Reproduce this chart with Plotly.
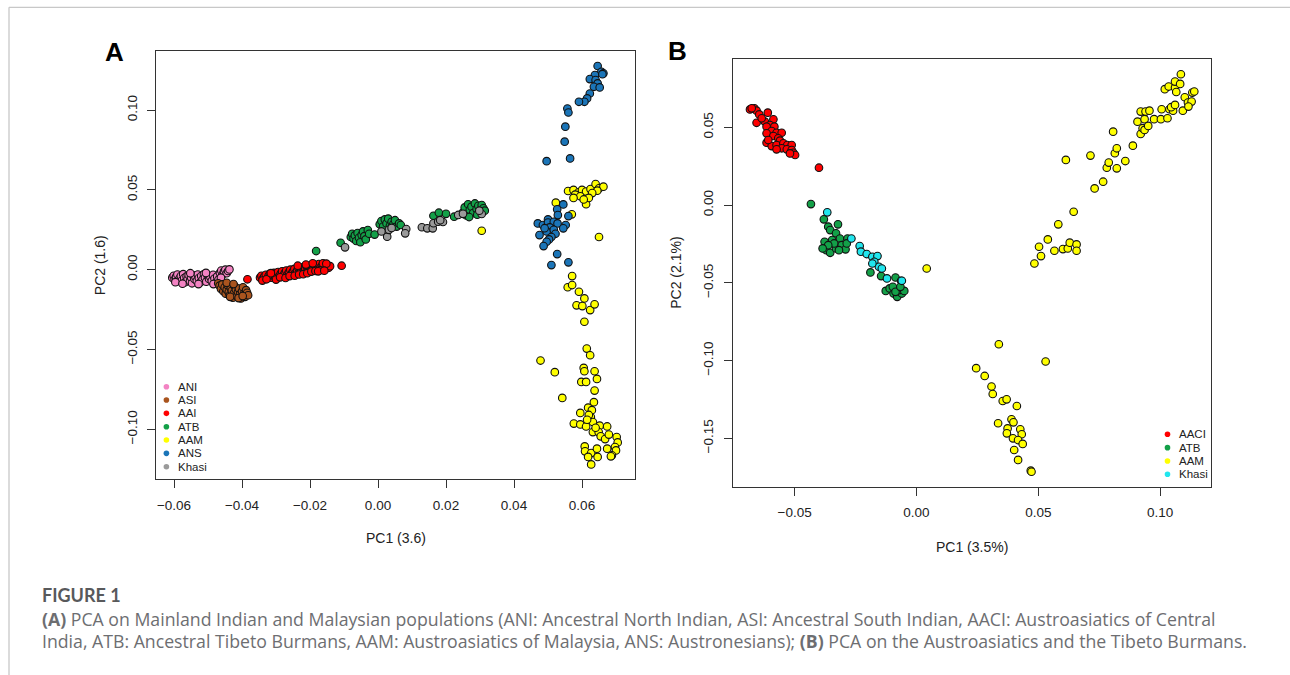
import plotly.graph_objects as go

# ---------------- DATA: panel A ----------------
ANI_x = [-0.0605,-0.0601,-0.0598,-0.0594,-0.0590,-0.0588,-0.0584,-0.0580,-0.0577,-0.0573,-0.0570,-0.0567,-0.0563,-0.0560,-0.0557,-0.0553,-0.0550,-0.0547,-0.0543,-0.0540,-0.0537,-0.0533,-0.0530,-0.0527,-0.0523,-0.0520,-0.0516,-0.0512,-0.0509,-0.0505,-0.0501,-0.0497,-0.0493,-0.0489,-0.0485,-0.0481,-0.0477,-0.0473,-0.0469,-0.0465,-0.0461,-0.0457,-0.0453,-0.0449,-0.0445,-0.0441,-0.0437,-0.0596,-0.0575,-0.0552,-0.0528,-0.0506,-0.0484,-0.0462]
ANI_y = [-0.0050,-0.0038,-0.0062,-0.0045,-0.0030,-0.0070,-0.0055,-0.0040,-0.0068,-0.0028,-0.0052,-0.0078,-0.0042,-0.0060,-0.0033,-0.0072,-0.0048,-0.0085,-0.0035,-0.0058,-0.0044,-0.0070,-0.0030,-0.0052,-0.0080,-0.0040,-0.0062,-0.0028,-0.0050,-0.0075,-0.0038,-0.0058,-0.0046,-0.0070,-0.0032,-0.0055,-0.0080,-0.0042,-0.0062,-0.0020,-0.0005,-0.0030,-0.0012,0.0000,-0.0022,-0.0008,0.0002,-0.0078,-0.0088,-0.0022,-0.0090,-0.0020,-0.0090,-0.0050]

ASI_x = [-0.0470,-0.0466,-0.0462,-0.0458,-0.0455,-0.0451,-0.0448,-0.0445,-0.0442,-0.0439,-0.0436,-0.0433,-0.0430,-0.0427,-0.0424,-0.0421,-0.0418,-0.0415,-0.0412,-0.0409,-0.0406,-0.0403,-0.0400,-0.0397,-0.0394,-0.0391,-0.0388,-0.0385,-0.0382,-0.0445,-0.0425,-0.0410,-0.0435,-0.0398]
ASI_y = [-0.0085,-0.0100,-0.0120,-0.0092,-0.0135,-0.0110,-0.0150,-0.0125,-0.0098,-0.0140,-0.0160,-0.0115,-0.0132,-0.0175,-0.0148,-0.0105,-0.0125,-0.0165,-0.0140,-0.0118,-0.0155,-0.0180,-0.0135,-0.0110,-0.0150,-0.0170,-0.0128,-0.0145,-0.0160,-0.0082,-0.0090,-0.0178,-0.0170,-0.0165]

AAI_x = [-0.0384,-0.0347,-0.0343,-0.0339,-0.0335,-0.0330,-0.0326,-0.0322,-0.0318,-0.0314,-0.0310,-0.0306,-0.0302,-0.0298,-0.0294,-0.0290,-0.0286,-0.0282,-0.0278,-0.0274,-0.0270,-0.0266,-0.0262,-0.0258,-0.0254,-0.0250,-0.0246,-0.0242,-0.0238,-0.0234,-0.0230,-0.0226,-0.0222,-0.0218,-0.0214,-0.0210,-0.0206,-0.0202,-0.0198,-0.0194,-0.0190,-0.0186,-0.0182,-0.0178,-0.0174,-0.0170,-0.0165,-0.0160,-0.0155,-0.0150,-0.0145,-0.0141,-0.0107,
         -0.0340,-0.0328,-0.0315,-0.0300,-0.0288,-0.0272,-0.0260,-0.0245,-0.0232,-0.0220,-0.0208,-0.0196,-0.0184,-0.0172,-0.0162,-0.0152,-0.0236,-0.0212,-0.0192,-0.0176,-0.0158]
AAI_y = [-0.0060,-0.0050,-0.0038,-0.0058,-0.0045,-0.0032,-0.0055,-0.0040,-0.0025,-0.0050,-0.0035,-0.0020,-0.0045,-0.0030,-0.0015,-0.0040,-0.0025,-0.0010,-0.0035,-0.0020,-0.0005,-0.0030,-0.0015,0.0000,-0.0025,-0.0010,0.0005,-0.0020,-0.0005,0.0010,-0.0015,0.0000,0.0015,-0.0008,0.0008,0.0020,-0.0002,0.0012,0.0025,0.0004,0.0018,0.0030,0.0010,0.0022,0.0035,0.0012,0.0025,0.0005,0.0018,0.0030,0.0012,0.0022,0.0025,
         -0.0068,-0.0060,-0.0022,-0.0062,-0.0048,-0.0052,-0.0040,-0.0038,-0.0030,-0.0028,-0.0022,-0.0012,-0.0008,-0.0004,0.0040,0.0038,0.0025,0.0032,0.0040,-0.0010,-0.0006]

ATB_A_x = [-0.0182,-0.0110,-0.0080,-0.0076,-0.0072,-0.0068,-0.0064,-0.0060,-0.0056,-0.0052,-0.0048,-0.0044,-0.0040,-0.0036,-0.0030,-0.0026,-0.0010,0.0005,0.0010,0.0015,0.0020,0.0025,0.0030,0.0035,0.0040,0.0045,0.0050,0.0055,0.0062,0.0067,0.0163,0.0179,0.0200,0.0224,0.0250,0.0255,0.0260,0.0265,0.0270,0.0275,0.0280,0.0285,0.0290,0.0295,0.0300,0.0305,0.0310,0.0314,0.0268,0.0292]
ATB_A_y = [0.0117,0.0169,0.0205,0.0225,0.0195,0.0215,0.0180,0.0230,0.0200,0.0172,0.0218,0.0240,0.0210,0.0190,0.0248,0.0225,0.0220,0.0285,0.0305,0.0270,0.0315,0.0290,0.0320,0.0275,0.0300,0.0285,0.0310,0.0270,0.0290,0.0280,0.0338,0.0357,0.0350,0.0332,0.0360,0.0390,0.0340,0.0410,0.0375,0.0395,0.0355,0.0415,0.0380,0.0400,0.0365,0.0405,0.0385,0.0370,0.0330,0.0345]

AAM_A_x = [0.0305,0.0559,0.0575,0.0590,0.0600,0.0612,0.0625,0.0640,0.0650,0.0663,0.0645,0.0630,0.0580,0.0595,0.0575,0.0612,0.0620,0.0605,0.0570,0.0523,0.0650,0.0571,0.0558,0.0571,0.0591,0.0607,0.0584,0.0601,0.0624,0.0637,0.0607,0.0614,0.0624,0.0478,0.0520,0.0542,0.0605,0.0607,0.0637,0.0644,0.0598,0.0612,0.0637,0.0635,0.0618,0.0629,0.0595,0.0626,0.0576,0.0595,0.0612,0.0632,0.0652,0.0674,0.0632,0.0649,0.0655,0.0668,0.0679,0.0702,0.0705,0.0697,0.0674,0.0700,0.0688,0.0685,0.0608,0.0609,0.0627,0.0644,0.0646,0.0618,0.0627,0.0620,0.0640,0.0615]
AAM_A_y = [0.0244,0.0493,0.0500,0.0485,0.0500,0.0490,0.0505,0.0537,0.0510,0.0520,0.0495,0.0480,0.0470,0.0460,0.0450,0.0410,0.0450,0.0440,0.0347,0.0420,0.0205,-0.0040,-0.0110,-0.0096,-0.0138,-0.0180,-0.0223,-0.0228,-0.0253,-0.0217,-0.0326,-0.0494,-0.0536,-0.0569,-0.0642,-0.0803,-0.0615,-0.0636,-0.0636,-0.0684,-0.0703,-0.0703,-0.0757,-0.0830,-0.0864,-0.0880,-0.0897,-0.0923,-0.0964,-0.0969,-0.0982,-0.0954,-0.0977,-0.0982,-0.1017,-0.1017,-0.1044,-0.1061,-0.1033,-0.1048,-0.1082,-0.1111,-0.1121,-0.1132,-0.1163,-0.1169,-0.1107,-0.1138,-0.1149,-0.1121,-0.1173,-0.1173,-0.1220,-0.0910,-0.0990,-0.0940]

ANS_x = [0.0646,0.0657,0.0663,0.0638,0.0623,0.0640,0.0646,0.0635,0.0652,0.0660,0.0623,0.0615,0.0607,0.0591,0.0557,0.0560,0.0551,0.0549,0.0565,0.0496,0.0545,0.0527,0.0529,0.0500,0.0470,0.0485,0.0500,0.0517,0.0528,0.0505,0.0552,0.0560,0.0475,0.0496,0.0517,0.0522,0.0510,0.0503,0.0496,0.0487,0.0527,0.0510,0.0560,0.0545,0.0490]
ANS_y = [0.1276,0.1240,0.1230,0.1219,0.1194,0.1188,0.1167,0.1146,0.1142,0.1225,0.1104,0.1073,0.1052,0.1052,0.1010,0.0985,0.0896,0.0802,0.0697,0.0680,0.0409,0.0378,0.0342,0.0315,0.0290,0.0280,0.0295,0.0300,0.0290,0.0265,0.0280,0.0336,0.0217,0.0240,0.0250,0.0225,0.0205,0.0190,0.0175,0.0148,0.0098,0.0029,0.0046,0.0259,0.0260]

KHASI_A_x = [-0.0097,0.0027,0.0032,0.0083,0.0080,0.0129,0.0145,0.0161,0.0163,0.0177,0.0191,0.0236,0.0305,0.0298,0.0040,0.0010,0.0183,0.0250]
KHASI_A_y = [0.0140,0.0207,0.0250,0.0255,0.0228,0.0266,0.0259,0.0259,0.0291,0.0301,0.0299,0.0343,0.0349,0.0370,0.0262,0.0240,0.0310,0.0350]

# ---------------- DATA: panel B ----------------
AACI_x = [-0.0683,-0.0665,-0.0656,-0.0610,-0.0645,-0.0656,-0.0622,-0.0587,-0.0601,-0.0615,-0.0583,-0.0594,-0.0615,-0.0574,-0.0553,-0.0587,-0.0567,-0.0615,-0.0560,-0.0594,-0.0574,-0.0546,-0.0530,-0.0512,-0.0553,-0.0532,-0.0512,-0.0505,-0.0498,-0.0519,-0.0574,-0.0635,-0.0608,-0.0676,-0.0400]
AACI_y = [0.0615,0.0622,0.0607,0.0594,0.0583,0.0529,0.0536,0.0551,0.0514,0.0504,0.0504,0.0476,0.0461,0.0465,0.0465,0.0444,0.0429,0.0401,0.0414,0.0379,0.0386,0.0397,0.0386,0.0386,0.0365,0.0358,0.0354,0.0336,0.0322,0.0332,0.0358,0.0558,0.0418,0.0622,0.0240]

ATB_B_x = [-0.0433,-0.0380,-0.0322,-0.0362,-0.0354,-0.0330,-0.0377,-0.0346,-0.0314,-0.0283,-0.0370,-0.0354,-0.0330,-0.0307,-0.0291,-0.0338,-0.0362,-0.0318,-0.0385,-0.0286,-0.0189,-0.0145,-0.0086,-0.0063,-0.0126,-0.0110,-0.0094,-0.0079,-0.0060,-0.0071,-0.0097,-0.0050,-0.0086,-0.0066]
ATB_B_y = [0.0006,-0.0092,-0.0124,-0.0139,-0.0161,-0.0182,-0.0236,-0.0225,-0.0215,-0.0215,-0.0290,-0.0307,-0.0279,-0.0258,-0.0285,-0.0247,-0.0258,-0.0290,-0.0279,-0.0247,-0.0433,-0.0457,-0.0466,-0.0487,-0.0552,-0.0536,-0.0569,-0.0590,-0.0569,-0.0547,-0.0526,-0.0552,-0.0558,-0.0526]

KHASI_B_x = [-0.0366,-0.0267,-0.0233,-0.0228,-0.0204,-0.0181,-0.0160,-0.0173,-0.0154,-0.0142,-0.0181,-0.0121,-0.0060]
KHASI_B_y = [-0.0047,-0.0215,-0.0264,-0.0300,-0.0315,-0.0333,-0.0328,-0.0365,-0.0397,-0.0408,-0.0376,-0.0472,-0.0487]

AAM_B_x = [0.0042,0.0484,0.0503,0.0511,0.0539,0.0566,0.0582,0.0601,0.0621,0.0629,0.0657,0.0657,0.0613,0.0645,0.0714,0.0731,0.0766,0.0781,0.0789,0.0814,0.0822,0.0807,0.0822,0.0857,0.0888,0.0907,0.0920,0.0920,0.0928,0.0936,0.0936,0.0951,0.0940,0.0956,0.0975,0.1006,0.1003,0.1030,0.1038,0.1053,0.1045,0.1061,0.1093,0.1019,0.1035,0.1061,0.1061,0.1082,0.1066,0.1085,0.1101,0.1114,0.1132,0.1140,0.1129,0.1116,
           0.0338,0.0530,0.0245,0.0280,0.0308,0.0313,0.0354,0.0370,0.0412,0.0335,0.0390,0.0398,0.0374,0.0371,0.0426,0.0432,0.0396,0.0417,0.0436,0.0401,0.0417,0.0469,0.0472]
AAM_B_y = [-0.0408,-0.0376,-0.0268,-0.0328,-0.0221,-0.0294,-0.0124,-0.0283,-0.0279,-0.0242,-0.0253,-0.0294,0.0290,-0.0043,0.0318,0.0107,0.0150,0.0240,0.0273,0.0333,0.0365,0.0472,0.0236,0.0283,0.0382,0.0536,0.0601,0.0457,0.0494,0.0483,0.0552,0.0509,0.0601,0.0607,0.0552,0.0616,0.0552,0.0558,0.0616,0.0607,0.0629,0.0644,0.0607,0.0745,0.0762,0.0755,0.0794,0.0779,0.0727,0.0841,0.0693,0.0659,0.0723,0.0730,0.0665,0.0633,
           -0.0895,-0.1006,-0.1049,-0.1099,-0.1167,-0.1215,-0.1260,-0.1249,-0.1292,-0.1403,-0.1378,-0.1397,-0.1436,-0.1468,-0.1442,-0.1474,-0.1500,-0.1511,-0.1536,-0.1575,-0.1639,-0.1708,-0.1715]

LEGEND_A = ["ANI", "ASI", "AAI", "ATB", "AAM", "ANS", "Khasi"]
LEGEND_B = ["AACI", "ATB", "AAM", "Khasi"]
XTICKS_A = [-0.06, -0.04, -0.02, 0.00, 0.02, 0.04, 0.06]
YTICKS_A = [-0.10, -0.05, 0.00, 0.05, 0.10]
XTICKS_B = [-0.05, 0.00, 0.05, 0.10]
YTICKS_B = [-0.15, -0.10, -0.05, 0.00, 0.05]

COL = {"ANI": "#F383C3", "ASI": "#A9541E", "AAI": "#FF0000", "ATB": "#13A048",
       "AAM": "#FFFF00", "ANS": "#1B75B8", "Khasi": "#9A9A9A", "AACI": "#FF0000",
       "KhasiB": "#21E6EE"}

W, H = 1290, 675
def fx(px): return px / W
def fy(py): return 1 - py / H

fig = go.Figure()

def add(xs, ys, col, xa, ya, name):
    fig.add_trace(go.Scatter(x=xs, y=ys, mode="markers", name=name, showlegend=False,
                             xaxis=xa, yaxis=ya, hoverinfo="skip",
                             marker=dict(size=7.6, color=col, line=dict(color="#111111", width=1.1))))

add(ANI_x, ANI_y, COL["ANI"], "x", "y", "ANI")
add(ASI_x, ASI_y, COL["ASI"], "x", "y", "ASI")
add(AAI_x, AAI_y, COL["AAI"], "x", "y", "AAI")
add(ATB_A_x, ATB_A_y, COL["ATB"], "x", "y", "ATB")
add(AAM_A_x, AAM_A_y, COL["AAM"], "x", "y", "AAM")
add(ANS_x, ANS_y, COL["ANS"], "x", "y", "ANS")
add(KHASI_A_x, KHASI_A_y, COL["Khasi"], "x", "y", "Khasi")

add(AACI_x, AACI_y, COL["AACI"], "x2", "y2", "AACI")
add(ATB_B_x, ATB_B_y, COL["ATB"], "x2", "y2", "ATB")
add(KHASI_B_x, KHASI_B_y, COL["KhasiB"], "x2", "y2", "Khasi")
add(AAM_B_x, AAM_B_y, COL["AAM"], "x2", "y2", "AAM")

tickfont = dict(family="Liberation Sans, Arial, sans-serif", size=13.5, color="#222222")
def axis(domain, rng, vals, anchor, yax=False):
    d = dict(domain=domain, range=rng, tickmode="array", tickvals=vals, tickformat=".2f",
             showline=True, linecolor="#333333", linewidth=1, mirror=True,
             ticks="outside", ticklen=8, tickwidth=1, tickcolor="#333333",
             showgrid=False, zeroline=False, tickfont=tickfont, anchor=anchor,
             ticklabelstandoff=5, fixedrange=True)
    if yax:
        d["tickangle"] = -90
    return d

fig.update_layout(
    width=W, height=H, autosize=False,
    margin=dict(l=0, r=0, t=0, b=0),
    paper_bgcolor="white", plot_bgcolor="white",
    xaxis=axis([fx(156.4), fx(634.8)], [-0.06518, 0.07553], XTICKS_A, "y"),
    yaxis=axis([fy(479.3), fy(50.7)], [-0.1313, 0.1372], YTICKS_A, "x", True),
    xaxis2=axis([fx(732.7), fx(1211.1)], [-0.0754, 0.1209], XTICKS_B, "y2"),
    yaxis2=axis([fy(486.7), fy(58.7)], [-0.1811, 0.0941], YTICKS_B, "x2", True),
)

ann = []
lab = dict(family="Liberation Sans, Arial, sans-serif", size=14, color="#222222")
ann.append(dict(x=fx(114), y=fy(52), text="<b>A</b>", font=dict(family="Liberation Sans, Arial", size=26, color="#000")))
ann.append(dict(x=fx(677), y=fy(51), text="<b>B</b>", font=dict(family="Liberation Sans, Arial", size=26, color="#000")))
ann.append(dict(x=fx(395.6), y=fy(538.3), text="PC1 (3.6)", font=lab))
ann.append(dict(x=fx(100.2), y=fy(265), text="PC2 (1.6)", font=lab, textangle=-90))
ann.append(dict(x=fx(971.9), y=fy(546.7), text="PC1 (3.5%)", font=lab))
ann.append(dict(x=fx(676.1), y=fy(272.7), text="PC2 (2.1%)", font=lab, textangle=-90))

shapes = []
legfont = dict(family="Liberation Sans, Arial, sans-serif", size=11.5, color="#222222")
def legend(names, cols, dotx, textx, y0, dy):
    for i, (n, c) in enumerate(zip(names, cols)):
        yy = y0 + i * dy
        shapes.append(dict(type="circle", xref="paper", yref="paper",
                           x0=fx(dotx - 2.8), x1=fx(dotx + 2.8), y0=fy(yy + 2.8), y1=fy(yy - 2.8),
                           fillcolor=c, line=dict(width=0)))
        ann.append(dict(x=fx(textx), y=fy(yy), text=n, xanchor="left", font=legfont))

legend(LEGEND_A, [COL[n] for n in LEGEND_A], 166.4, 175.5, 386.7, 13.33)
legend(LEGEND_B, [COL["AACI"], COL["ATB"], COL["AAM"], COL["KhasiB"]], 1167.5, 1176.5, 434.3, 13.33)

# outer frame
shapes.append(dict(type="line", xref="paper", yref="paper", x0=fx(9), x1=1.0, y0=fy(7.3), y1=fy(7.3),
                   line=dict(color="#c8c8c8", width=1.3)))
shapes.append(dict(type="line", xref="paper", yref="paper", x0=fx(9), x1=fx(9), y0=fy(7.3), y1=0,
                   line=dict(color="#c8c8c8", width=1.3)))

capfont = dict(family="Open Sans, Noto Sans, sans-serif", size=17.7, color="#6d6e71")
ann.append(dict(x=fx(40), y=fy(595), text="<b>FIGURE 1</b>", xanchor="left",
                font=dict(family="Lato, Open Sans, sans-serif", size=18, color="#58595b")))
ann.append(dict(x=fx(40), y=fy(618.5), xanchor="left", font=capfont,
                text="<b>(A)</b> PCA on Mainland Indian and Malaysian populations (ANI: Ancestral North Indian, ASI: Ancestral South Indian, AACI: Austroasiatics of Central"))
ann.append(dict(x=fx(40), y=fy(641), xanchor="left", font=capfont,
                text="India, ATB: Ancestral Tibeto Burmans, AAM: Austroasiatics of Malaysia, ANS: Austronesians); <b>(B)</b> PCA on the Austroasiatics and the Tibeto Burmans."))

for a in ann:
    a.setdefault("xref", "paper")
    a.setdefault("yref", "paper")
    a.setdefault("showarrow", False)
    a.setdefault("yanchor", "middle")
    a.setdefault("xanchor", "center")

fig.update_layout(annotations=ann, shapes=shapes)
fig.write_html("out.html", config=dict(displayModeBar=False))
